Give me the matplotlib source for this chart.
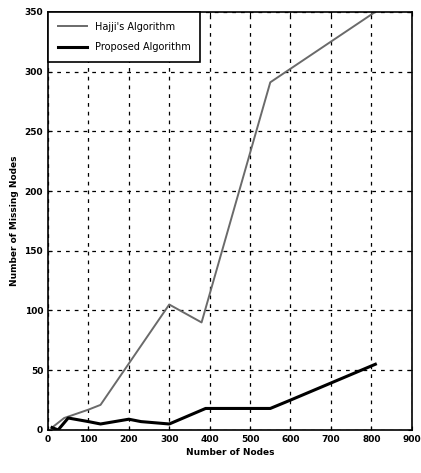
import matplotlib.pyplot as plt

# node counts and missing nodes for each algorithm
hajji_x = [10, 40, 100, 130, 300, 380, 550, 810]
hajji_y = [2, 10, 17, 21, 105, 90, 291, 350]

proposed_x = [10, 25, 50, 100, 130, 200, 230, 300, 390, 500, 550, 600, 810]
proposed_y = [2, 0, 10, 7, 5, 9, 7, 5, 18, 18, 18, 25, 55]

xticks = list(range(0, 901, 100))
yticks = list(range(0, 351, 50))

fig = plt.figure(figsize=(4.21, 4.73), dpi=100)
ax = fig.add_axes([0.114, 0.091, 0.864, 0.884])

ax.plot(hajji_x, hajji_y, color='#6a6a6a', lw=1.4, label="Hajji's Algorithm")
ax.plot(proposed_x, proposed_y, color='black', lw=2.2, label='Proposed Algorithm')

ax.set_xlim(0, 900)
ax.set_ylim(0, 350)
ax.set_xticks(xticks)
ax.set_yticks(yticks)
ax.grid(True, color='black', linestyle=(0, (3, 4)), lw=0.9)
ax.tick_params(direction='in', top=True, right=True, labelsize=6.5, length=3)
for lab in ax.get_xticklabels() + ax.get_yticklabels():
    lab.set_fontweight('bold')
for sp in ax.spines.values():
    sp.set_linewidth(1.2)

ax.set_xlabel('Number of Nodes', fontsize=6.5, fontweight='bold', labelpad=3)
ax.set_ylabel('Number of Missing Nodes', fontsize=6.5, fontweight='bold', labelpad=4)

leg = ax.legend(loc='upper left', fontsize=7, frameon=True, fancybox=False,
                edgecolor='black', framealpha=1, borderaxespad=0,
                handlelength=3.0, borderpad=1.0, labelspacing=1.1)
leg.get_frame().set_linewidth(1.2)

fig.savefig('out.png', dpi=100)
